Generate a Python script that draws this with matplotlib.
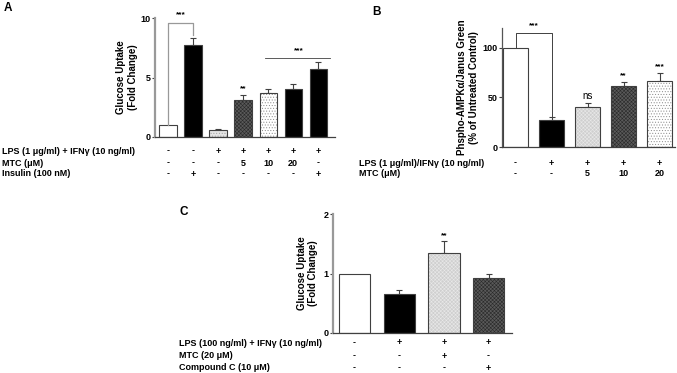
import matplotlib
matplotlib.use('Agg')
import matplotlib.pyplot as plt
import numpy as np

plt.rcParams['font.family'] = ['Liberation Sans', 'DejaVu Sans']
plt.rcParams['font.weight'] = 'bold'
plt.rcParams['axes.labelweight'] = 'bold'
plt.rcParams['hatch.linewidth'] = 0.4

# Panel A data
a_vals = [1.0, 7.75, 0.6, 3.1, 3.7, 4.0, 5.7]
a_err = [0.0, 0.55, 0.1, 0.4, 0.35, 0.45, 0.6]
a_rows = ['LPS (1 \u03bcg/ml) + IFN\u03b3 (10 ng/ml)', 'MTC (\u03bcM)', 'Insulin (100 nM)']
a_table = [['-', '-', '+', '+', '+', '+', '+'],
           ['-', '-', '-', '5', '10', '20', '-'],
           ['-', '+', '-', '-', '-', '-', '+']]

# Panel B data
b_vals = [100, 27, 40, 62, 67]
b_err = [0, 3, 4, 4, 8]
b_rows = ['LPS (1 \u03bcg/ml)/IFN\u03b3 (10 ng/ml)', 'MTC (\u03bcM)']
b_table = [['-', '+', '+', '+', '+'],
           ['-', '-', '5', '10', '20']]
b_marks = ['', '', 'ns', '**', '***']

# Panel C data
c_vals = [1.0, 0.65, 1.35, 0.93]
c_err = [0.0, 0.08, 0.19, 0.07]
c_rows = ['LPS (100 ng/ml) + IFN\u03b3 (10 ng/ml)', 'MTC (20 \u03bcM)', 'Compound C (10 \u03bcM)']
c_table = [['-', '+', '+', '+'],
           ['-', '-', '+', '-'],
           ['-', '-', '-', '+']]

W, H = 677, 373
fig = plt.figure(figsize=(W / 100, H / 100), dpi=100)


def px_axes(x0, x1, ytop, ybot):
    return fig.add_axes([x0 / W, 1 - ybot / H, (x1 - x0) / W, (ybot - ytop) / H])


# styles: (facecolor, hatch, hatchcolor)
STY = {
    'white': ('white', None, None),
    'black': ('black', None, None),
    'light': ('#cfcfcf', 'xxxxxxxxx', '#e8e8e8'),
    'dark': ('#5a5a5a', 'xxxxxxxxx', '#2a2a2a'),
    'dots': ('white', '......', '#8a8a8a'),
    'lightdots': ('#e4e4e4', '......', '#a0a0a0'),
}


def draw_bars(ax, vals, err, styles, width=0.7):
    x = np.arange(len(vals))
    for i, (v, e, s) in enumerate(zip(vals, err, styles)):
        fc, hatch, hc = STY[s]
        b = ax.bar(x[i], v, width, color=fc, edgecolor='#404040', linewidth=0.8,
                   hatch=hatch, zorder=2)
        if hc:
            b[0]._hatch_color = matplotlib.colors.to_rgba(hc)
        if e > 0:
            ax.errorbar(x[i], v, yerr=[[0], [e]], fmt='none', ecolor='#404040',
                        elinewidth=0.8, capsize=2.5, capthick=0.8, zorder=1)
    return x


def style_ax(ax, ytick, spine='#999999', lw=1.6, fs=6.5):
    for s in ['top', 'right']:
        ax.spines[s].set_visible(False)
    ax.spines['left'].set_color(spine)
    ax.spines['left'].set_linewidth(lw)
    ax.spines['bottom'].set_color('#404040')
    ax.spines['bottom'].set_linewidth(0.9)
    ax.set_xticks([])
    ax.set_yticks(ytick)
    ax.tick_params(axis='y', labelsize=fs, length=2, width=0.8, color='#404040', pad=1)
    for t in ax.get_yticklabels():
        t.set_fontweight('bold')


def table(rows, xs_px, ys_px, label_x, labels, fs=6.5):
    for r, (lab, y) in enumerate(zip(labels, ys_px)):
        fig.text(label_x / W, 1 - y / H, lab, fontsize=fs, ha='left', va='center')
        for xp, t in zip(xs_px, rows[r]):
            fig.text(xp / W, 1 - y / H, t, fontsize=fs, ha='center', va='center')


# ---------- Panel A ----------
axA = px_axes(155, 335, 18, 137)
draw_bars(axA, a_vals, a_err, ['white', 'black', 'lightdots', 'dark', 'dots', 'black', 'black'])
axA.set_xlim(-0.52, 6.66)
axA.set_ylim(0, 10)
style_ax(axA, [0, 5, 10])
axA.set_ylabel('Glucose Uptake\n(Fold Change)', fontsize=7, labelpad=2)
axA.plot([0, 0, 1, 1], [1.05, 9.6, 9.6, 8.6], color='#999999', lw=0.9, clip_on=False)
axA.text(0.5, 10.0, '***', ha='center', va='bottom', fontsize=6)
axA.plot([3.88, 6.48], [6.6, 6.6], color='#404040', lw=0.6)
axA.text(5.2, 6.95, '***', ha='center', va='bottom', fontsize=6)
axA.text(3, a_vals[3] + a_err[3] + 0.3, '**', ha='center', va='bottom', fontsize=6)
a_cx = [168 + 25 * i for i in range(7)]
table(a_table, a_cx, [151, 163, 174], 2, a_rows)
fig.text(4 / W, 1 - 8 / H, 'A', fontsize=8.5, ha='left', va='center')

# ---------- Panel B ----------
axB = px_axes(502, 675, 28, 147)
draw_bars(axB, b_vals, b_err, ['white', 'black', 'light', 'dark', 'dots'])
axB.set_xlim(-0.375, 4.43)
axB.set_ylim(0, 120)
style_ax(axB, [0, 50, 100], spine='#555555', lw=0.9)
axB.set_ylabel('Phspho-AMPK\u03b1/Janus Green\n(% of Untreated Control)', fontsize=7, labelpad=3)
axB.plot([0, 0, 1, 1], [100, 115, 115, 31], color='#404040', lw=0.7)
axB.text(0.5, 119, '***', ha='center', va='bottom', fontsize=6)
for i, m in enumerate(b_marks):
    if m:
        axB.text(i, b_vals[i] + b_err[i] + 2.5, m, ha='center', va='bottom',
                 fontsize=7 if m == 'ns' else 6, fontweight='normal' if m == 'ns' else 'bold')
b_cx = [515.5 + 36 * i for i in range(5)]
table(b_table, b_cx, [163, 174], 359, b_rows)
fig.text(372 / W, 1 - 12 / H, 'B', fontsize=8.5, ha='left', va='center')

# ---------- Panel C ----------
axC = px_axes(333, 512, 214, 333)
draw_bars(axC, c_vals, c_err, ['white', 'black', 'light', 'dark'])
axC.set_xlim(-0.48, 3.52)
axC.set_ylim(0, 2)
style_ax(axC, [0, 1, 2])
axC.set_ylabel('Glucose Uptake\n(Fold Change)', fontsize=7, labelpad=4)
axC.text(2, c_vals[2] + c_err[2] + 0.04, '**', ha='center', va='bottom', fontsize=6)
c_cx = [354.5 + 44.7 * i for i in range(4)]
table(c_table, c_cx, [343, 356, 368], 179, c_rows)
fig.text(180 / W, 1 - 212 / H, 'C', fontsize=8.5, ha='left', va='center')

fig.savefig('out.png', dpi=100)
